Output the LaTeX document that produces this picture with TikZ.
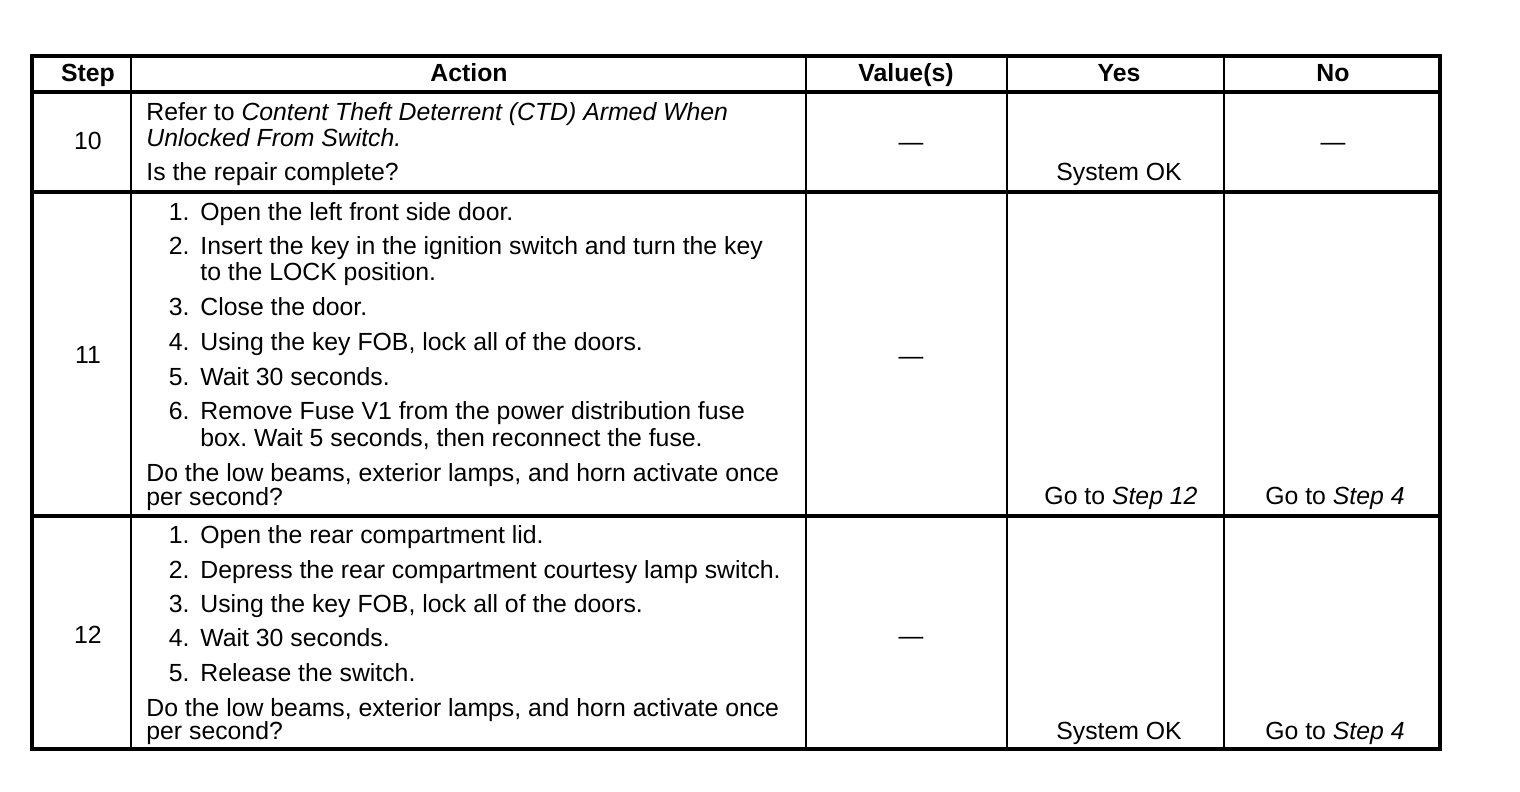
\documentclass[tikz,border=0pt]{standalone}
\usepackage{fontspec}
\setmainfont{Liberation Sans}
\frenchspacing
\newcommand{\st}[1]{\textit{#1}}

\begin{document}
\begin{tikzpicture}[x=0.5pt,y=-0.5pt,
  every node/.style={inner sep=0pt,anchor=mid,yshift=-1.5pt,font=\fontsize{12.4}{14}\selectfont},
  hd/.style={font=\fontsize{12.4}{14}\selectfont\bfseries},
  txt/.style={anchor=mid west},
  num/.style={anchor=mid east}]
\useasboundingbox (0,0) rectangle (1520,792);
% Grid:
\draw[line width=1.6pt] (32,56) rectangle (1440,749);
\foreach \x in {131,806,1007,1224} \draw[line width=1.4pt] (\x,56) -- (\x,749);
\foreach \y in {92,192,516} \draw[line width=1.6pt] (32,\y) -- (1440,\y);
% Header:
\node (hstep) [hd] at (88,73) {Step};
\node (hact) [hd] at (469,73) {Action};
\node (hval) [hd] at (906,73) {Value(s)};
\node (hyes) [hd] at (1119,73) {Yes};
\node (hno) [hd] at (1333,73) {No};
% Step 10:
\node (s10) [] at (88,141) {10};
\node (a10a) [txt] at (146,112) {Refer to \st{Content Theft Deterrent (CTD) Armed When}};
\node (a10b) [txt] at (146,138) {\st{Unlocked From Switch.}};
\node (a10c) [txt] at (146,172) {Is the repair complete?};
\node (v10) [] at (911,142) {---};
\node (y10) [] at (1119,172) {System OK};
\node (n10) [] at (1333,142) {---};
% Step 11:
\node (s11) [] at (88,355) {11};
\foreach \n/\y in {1/212,2/246,3/307,4/342,5/377,6/411}
  \node (k11-\n) [num] at (190,\y) {\n.};
\foreach \y/\t [count=\i] in {212/{Open the left front side door.},
    246/{Insert the key in the ignition switch and turn the key},
    272/{to the LOCK position.},
    307/{Close the door.},
    342/{Using the key FOB, lock all of the doors.},
    377/{Wait 30 seconds.},
    411/{Remove Fuse V1 from the power distribution fuse},
    438/{box. Wait 5 seconds, then reconnect the fuse.}}
  \node (a11-\i) [txt] at (200,\y) {\t};
\node (q11a) [txt] at (146,473) {Do the low beams, exterior lamps, and horn activate once};
\node (q11b) [txt] at (146,497) {per second?};
\node (v11) [] at (911,356) {---};
\node (y11) [] at (1121,496) {Go to \st{Step 12}};
\node (n11) [] at (1335,496) {Go to \st{Step 4}};
% Step 12:
\node (s12) [] at (88,635) {12};
\foreach \y/\t [count=\n] in {535/{Open the rear compartment lid.},
    570/{Depress the rear compartment courtesy lamp switch.},
    604/{Using the key FOB, lock all of the doors.},
    638/{Wait 30 seconds.},
    673/{Release the switch.}}
  {\node (k12-\n) [num] at (190,\y) {\n.};
   \node (a12-\n) [txt] at (200,\y) {\t};}
\node (q12a) [txt] at (146,708) {Do the low beams, exterior lamps, and horn activate once};
\node (q12b) [txt] at (146,731) {per second?};
\node (v12) [] at (911,636) {---};
\node (y12) [] at (1119,731) {System OK};
\node (n12) [] at (1335,731) {Go to \st{Step 4}};
\end{tikzpicture}
\end{document}
